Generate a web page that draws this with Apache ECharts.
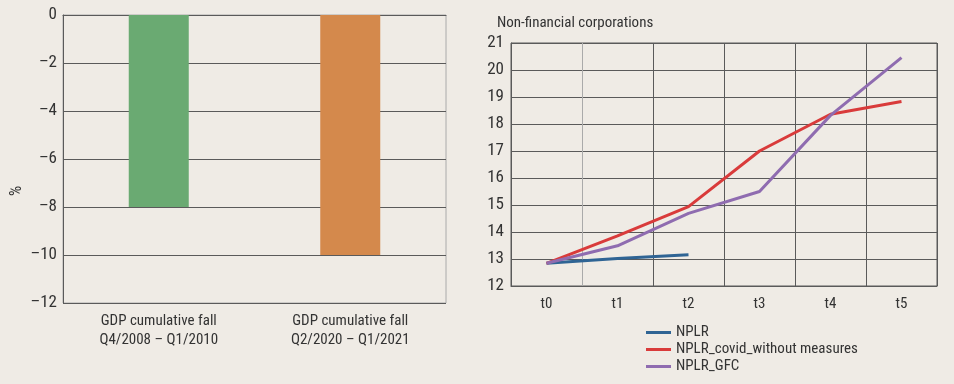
<!DOCTYPE html>
<html><head><meta charset="utf-8">
<script src="https://cdn.jsdelivr.net/npm/echarts@6/dist/echarts.min.js"></script>
<style>html,body{margin:0;padding:0;background:#efebe5}#c{width:954px;height:384px}</style>
</head><body><div id="c"></div>
<script>
const barCategories = ['GDP cumulative fall\nQ4/2008 – Q1/2010', 'GDP cumulative fall\nQ2/2020 – Q1/2021'];
const barValues = [-8, -10];
const barColors = ['#6aaa72', '#d4894c'];
const periods = ['t0','t1','t2','t3','t4','t5'];
const nplr = [12.84, 13.02, 13.16, null, null, null];
const nplrCovid = [12.84, 13.86, 14.94, 17.0, 18.36, 18.83];
const nplrGfc = [12.84, 13.49, 14.69, 15.5, 18.32, 20.46];
const FONT = '"Liberation Sans Narrow","Arial Narrow","Roboto Condensed",sans-serif';
const TXT = '#333';
const GRID = '#5a5a5a';
const fmtMinus = v => String(v).replace('-', '\u2013');

const chart = echarts.init(document.getElementById('c'), null, {renderer:'canvas'});
chart.setOption({
  backgroundColor: '#efebe5',
  textStyle: {fontFamily: FONT, color: TXT},
  animation: false,
  title: {text: 'Non-financial corporations', left: 492, top: 11,
    textStyle: {fontFamily: FONT, fontSize: 15, fontWeight: 'normal', color: TXT}},
  legend: {
    data: ['NPLR', 'NPLR_covid_without measures', 'NPLR_GFC'],
    orient: 'vertical', left: 646, top: 325, bottom: 0, padding: 0, itemGap: 2,
    icon: 'rect', itemWidth: 25, itemHeight: 3,
    textStyle: {fontFamily: FONT, fontSize: 15, color: TXT}
  },
  grid: [
    {left: 63, right: 508, top: 15, bottom: 81, show: true, borderColor: '#aaa', borderWidth: 1, backgroundColor: 'transparent'},
    {left: 511, right: 17, top: 43, bottom: 98, show: true, borderColor: GRID, borderWidth: 1, backgroundColor: 'transparent'}
  ],
  xAxis: [
    {gridIndex: 0, type: 'category', data: barCategories,
     axisLine: {lineStyle: {color: GRID}}, axisTick: {show: false},
     axisLabel: {fontFamily: FONT, fontSize: 15, color: TXT, margin: 9, lineHeight: 19}},
    {gridIndex: 1, type: 'category', data: periods, boundaryGap: true,
     axisLine: {lineStyle: {color: GRID}}, axisTick: {show: false},
     splitLine: {show: true, interval: 0, lineStyle: {color: [GRID, '#aaa', GRID, GRID, GRID, GRID, GRID], width: 1}},
     axisLabel: {fontFamily: FONT, fontSize: 15, color: TXT, margin: 11}}
  ],
  yAxis: [
    {gridIndex: 0, type: 'value', min: -12, max: 0, interval: 2,
     name: '%', nameLocation: 'middle', nameGap: 38, nameRotate: 90,
     nameTextStyle: {fontFamily: FONT, fontSize: 16, color: TXT, padding: [0, 64, 0, 0]},
     axisLine: {show: true, lineStyle: {color: GRID}}, axisTick: {show: false},
     splitLine: {lineStyle: {color: GRID}},
     axisLabel: {fontFamily: FONT, fontSize: 17, color: TXT, margin: 6, formatter: fmtMinus}},
    {gridIndex: 1, type: 'value', min: 12, max: 21, interval: 1,
     axisLine: {show: true, lineStyle: {color: GRID}}, axisTick: {show: false},
     splitLine: {lineStyle: {color: GRID}},
     axisLabel: {fontFamily: FONT, fontSize: 17, color: TXT, margin: 7}}
  ],
  series: [
    {type: 'bar', xAxisIndex: 0, yAxisIndex: 0, barWidth: 60,
     data: barValues.map((v, i) => ({value: v, itemStyle: {color: barColors[i]}}))},
    {name: 'NPLR', type: 'line', xAxisIndex: 1, yAxisIndex: 1, data: nplr, symbol: 'none',
     lineStyle: {color: '#2f6494', width: 3}, itemStyle: {color: '#2f6494'}},
    {name: 'NPLR_covid_without measures', type: 'line', xAxisIndex: 1, yAxisIndex: 1, data: nplrCovid, symbol: 'none',
     lineStyle: {color: '#d93b3b', width: 3}, itemStyle: {color: '#d93b3b'}},
    {name: 'NPLR_GFC', type: 'line', xAxisIndex: 1, yAxisIndex: 1, data: nplrGfc, symbol: 'none',
     lineStyle: {color: '#8f6cb0', width: 3}, itemStyle: {color: '#8f6cb0'}}
  ]
});
</script></body></html>
